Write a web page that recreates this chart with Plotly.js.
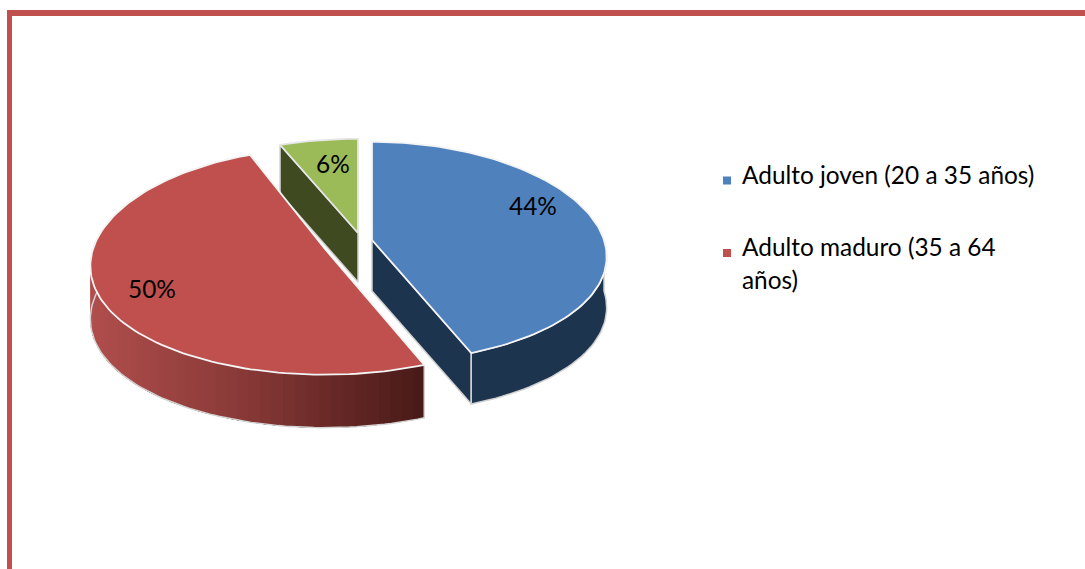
<!DOCTYPE html>
<html><head><meta charset="utf-8">
<script src="https://cdn.plot.ly/plotly-3.0.0.min.js"></script>
<style>html,body{margin:0;padding:0;background:#fff}#c{width:1085px;height:569px}</style>
</head><body><div id="c"></div>
<script>
// Data
const sliceValues = [44, 50, 6];
const sliceColors = ['#4f81bd', '#c0504d', '#9bbb59'];
const legendLabels = ['Adulto joven (20 a 35 años)', 'Adulto maduro (35 a 64', 'años)'];

// Scene geometry (tilted, exploded 3D pie)
const W = 1085, H = 569;
const R = 232, RY = 109, PX = 0.15, PY = 0.111;
const apex = [{x:372,y:240,sx:1,sy:1,d:51},{x:325,y:249,sx:1,sy:1.025,d:53},{x:358,y:233,sx:1.04,sy:0.96,d:49}];
const wallColors = ['#1d344f', null, '#3f4a20'];
const total = sliceValues.reduce((a,b)=>a+b,0);
let acc = 0;
const angles = sliceValues.map(v=>{const a=[acc,acc+v/total*360];acc=a[1];return a;});

function proj(i,deg,r,dz){
  const th=deg*Math.PI/180, X=r*Math.sin(th), Y=r*Math.cos(th), A=apex[i];
  return [A.x+A.sx*X*R/(1+PX*Y), A.y-A.sy*Y*RY/(1+PY*Y)+dz];
}
function arc(i,a0,a1,dz){
  const n=Math.max(2,Math.ceil(Math.abs(a1-a0)/1.5)),pts=[];
  for(let k=0;k<=n;k++)pts.push(proj(i,a0+(a1-a0)*k/n,1,dz));
  return pts;
}
function poly(pts,fill,line,w){
  const c=pts.concat([pts[0]]);
  return {type:'scatter',mode:'lines',x:c.map(p=>p[0]),y:c.map(p=>p[1]),fill:'toself',fillcolor:fill,
    line:{color:line||fill,width:w===undefined?1:w},hoverinfo:'skip',showlegend:false};
}
function stroke(pts,color,w){
  return {type:'scatter',mode:'lines',x:pts.map(p=>p[0]),y:pts.map(p=>p[1]),
    line:{color:color,width:w},hoverinfo:'skip',showlegend:false};
}
function mix(c0,c1,f){
  const p=s=>[1,3,5].map(k=>parseInt(s.substr(k,2),16));
  const a=p(c0),b=p(c1);
  return 'rgb('+a.map((v,k)=>Math.round(v+(b[k]-v)*f)).join(',')+')';
}
const traces=[];
function cutWall(i,deg){
  const a=proj(i,deg,0,0),b=proj(i,deg,1,0),d=apex[i].d;
  return poly([a,b,[b[0],b[1]+d],[a[0],a[1]+d]],wallColors[i],'#d0d0d0',1.5);
}
// green slice
traces.push(cutWall(2,angles[2][0]));
traces.push(poly([proj(2,0,0,0)].concat(arc(2,angles[2][0],angles[2][1],0)),sliceColors[2],'#e6e6e6',1.8));
// blue slice
traces.push(cutWall(0,angles[0][1]));
{
  const d=apex[0].d, top=arc(0,90,angles[0][1],0), low=arc(0,angles[0][1],90,d);
  traces.push(poly(top.concat(low),wallColors[0],'#d0d0d0',1.5));
}
traces.push(poly([proj(0,0,0,0)].concat(arc(0,angles[0][0],angles[0][1],0)),sliceColors[0],'#f4f4f4',1.8));
// red slice: outer wall with horizontal shading, painted in overlapping bands so no seams show
{
  const a0=angles[1][0], a1=275, n=46, d=apex[1].d;
  const xl=proj(1,270,1,0)[0], xr=proj(1,a0,1,0)[0];
  for(let k=0;k<n;k++){
    const d0=a0+(a1-a0)*k/n;
    const xm=proj(1,d0,1,0)[0];
    const f=Math.min(1,Math.max(0,(xr-xm)/(xr-xl)));
    const col=f<0.55?mix('#4a1a18','#8a3a38',f/0.55):mix('#8a3a38','#b04e4c',(f-0.55)/0.45);
    const t={...poly(arc(1,d0,a1,0).concat(arc(1,a1,d0,d)),col,col,0)};
    t.line={width:0,color:col};
    traces.push(t);
  }
  const corner=proj(1,a0,1,0);
  traces.push(stroke([corner].concat(arc(1,a0,a1,d)),'#d4d4d4',1.5));
}
traces.push(poly([proj(1,0,0,0)].concat(arc(1,angles[1][0],angles[1][1],0)),sliceColors[1],'#f4f4f4',1.8));

// legend markers
traces.push({type:'scatter',mode:'markers',x:[727,727],y:[180.5,253],
  marker:{symbol:'square',size:8,color:sliceColors.slice(0,2),line:{width:0}},hoverinfo:'skip',showlegend:false});

const FONT='Lato, "Open Sans", sans-serif', FS=24.4;
const pctPos=[{x:533,y:205},{x:152,y:288},{x:333,y:163}];
const annotations=sliceValues.map((v,i)=>({x:pctPos[i].x,y:pctPos[i].y,xref:'x',yref:'y',text:v+'%',showarrow:false,
  xanchor:'center',yanchor:'middle',font:{family:FONT,size:FS,color:'#000'}}));
const legendY=[174,246,279];
legendLabels.forEach((t,i)=>annotations.push({x:740,y:legendY[i],xref:'x',yref:'y',text:t,showarrow:false,xanchor:'left',yanchor:'middle',
  align:'left',font:{family:FONT,size:FS,color:'#000'}}));

const layout={width:W,height:H,margin:{l:0,r:0,t:0,b:0},paper_bgcolor:'#fff',plot_bgcolor:'#fff',showlegend:false,
  xaxis:{range:[0,W],visible:false,fixedrange:true},yaxis:{range:[H,0],visible:false,fixedrange:true},
  annotations,
  shapes:[
   {type:'rect',xref:'x',yref:'y',x0:7,x1:W,y0:10,y1:16,fillcolor:'#c0504d',line:{width:0},layer:'below'},
   {type:'rect',xref:'x',yref:'y',x0:7,x1:12,y0:10,y1:H,fillcolor:'#c0504d',line:{width:0},layer:'below'}
  ]};
Plotly.newPlot('c',traces,layout,{displayModeBar:false,staticPlot:true});
</script></body></html>
